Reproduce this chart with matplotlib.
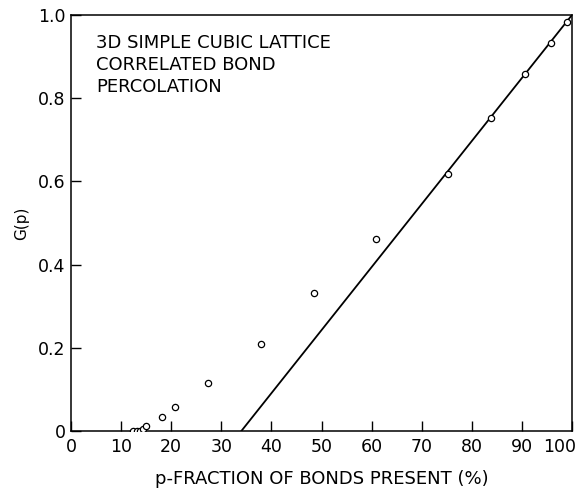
import matplotlib.pyplot as plt
from matplotlib.transforms import ScaledTranslation

# values
P_PCT = [12.4, 13.2, 13.8, 14.3, 15.0, 18.2, 20.8, 27.4,
         37.9, 48.6, 60.8, 75.3, 83.8, 90.7, 95.9, 99.0]
G_P = [0.0, 0.0, 0.0, 0.004, 0.012, 0.034, 0.058, 0.115,
       0.209, 0.331, 0.462, 0.618, 0.752, 0.858, 0.932, 0.982]
FIT_P = [34.0, 100.0]
FIT_G = [0.0, 1.0]

X_TICKS = list(range(0, 101, 10))
Y_TICKS = [0, 0.2, 0.4, 0.6, 0.8, 1.0]
Y_LABELS = ["0", "0.2", "0.4", "0.6", "0.8", "1.0"]


def main():
    plt.rcParams["font.family"] = "DejaVu Sans"
    fig = plt.figure(figsize=(5.86, 4.91), dpi=100, facecolor="white")
    ax = fig.add_axes([0.1212, 0.1222, 0.8549, 0.8473])

    ax.plot(FIT_P, FIT_G, color="black", lw=1.3)
    ax.plot(P_PCT, G_P, "o", ms=4.5, mfc="white", mec="black", mew=0.9,
            zorder=3)

    ax.set_xlim(0, 100)
    ax.set_ylim(0, 1.0)
    ax.set_xticks(X_TICKS)
    ax.set_yticks(Y_TICKS)
    ax.set_yticklabels(Y_LABELS)
    ax.tick_params(direction="in", length=7.5, width=1, labelsize=12.5,
                   pad=4)
    ax.tick_params(axis="x", pad=5)
    for s in ax.spines.values():
        s.set_linewidth(1.1)

    # pull the "100" label in so it stays inside the figure
    last = ax.get_xticklabels()[-1]
    last.set_transform(last.get_transform()
                       + ScaledTranslation(-9 / 72, 0, fig.dpi_scale_trans))

    ax.set_xlabel("p-FRACTION OF BONDS PRESENT (%)", fontsize=13, labelpad=10)
    ax.set_ylabel("G(p)", fontsize=11, labelpad=6)

    ax.text(0.05, 0.955,
            "3D SIMPLE CUBIC LATTICE\nCORRELATED BOND\nPERCOLATION",
            transform=ax.transAxes, fontsize=13, va="top", ha="left",
            linespacing=1.3)

    fig.savefig("out.png", dpi=100, facecolor="white")


if __name__ == "__main__":
    main()
